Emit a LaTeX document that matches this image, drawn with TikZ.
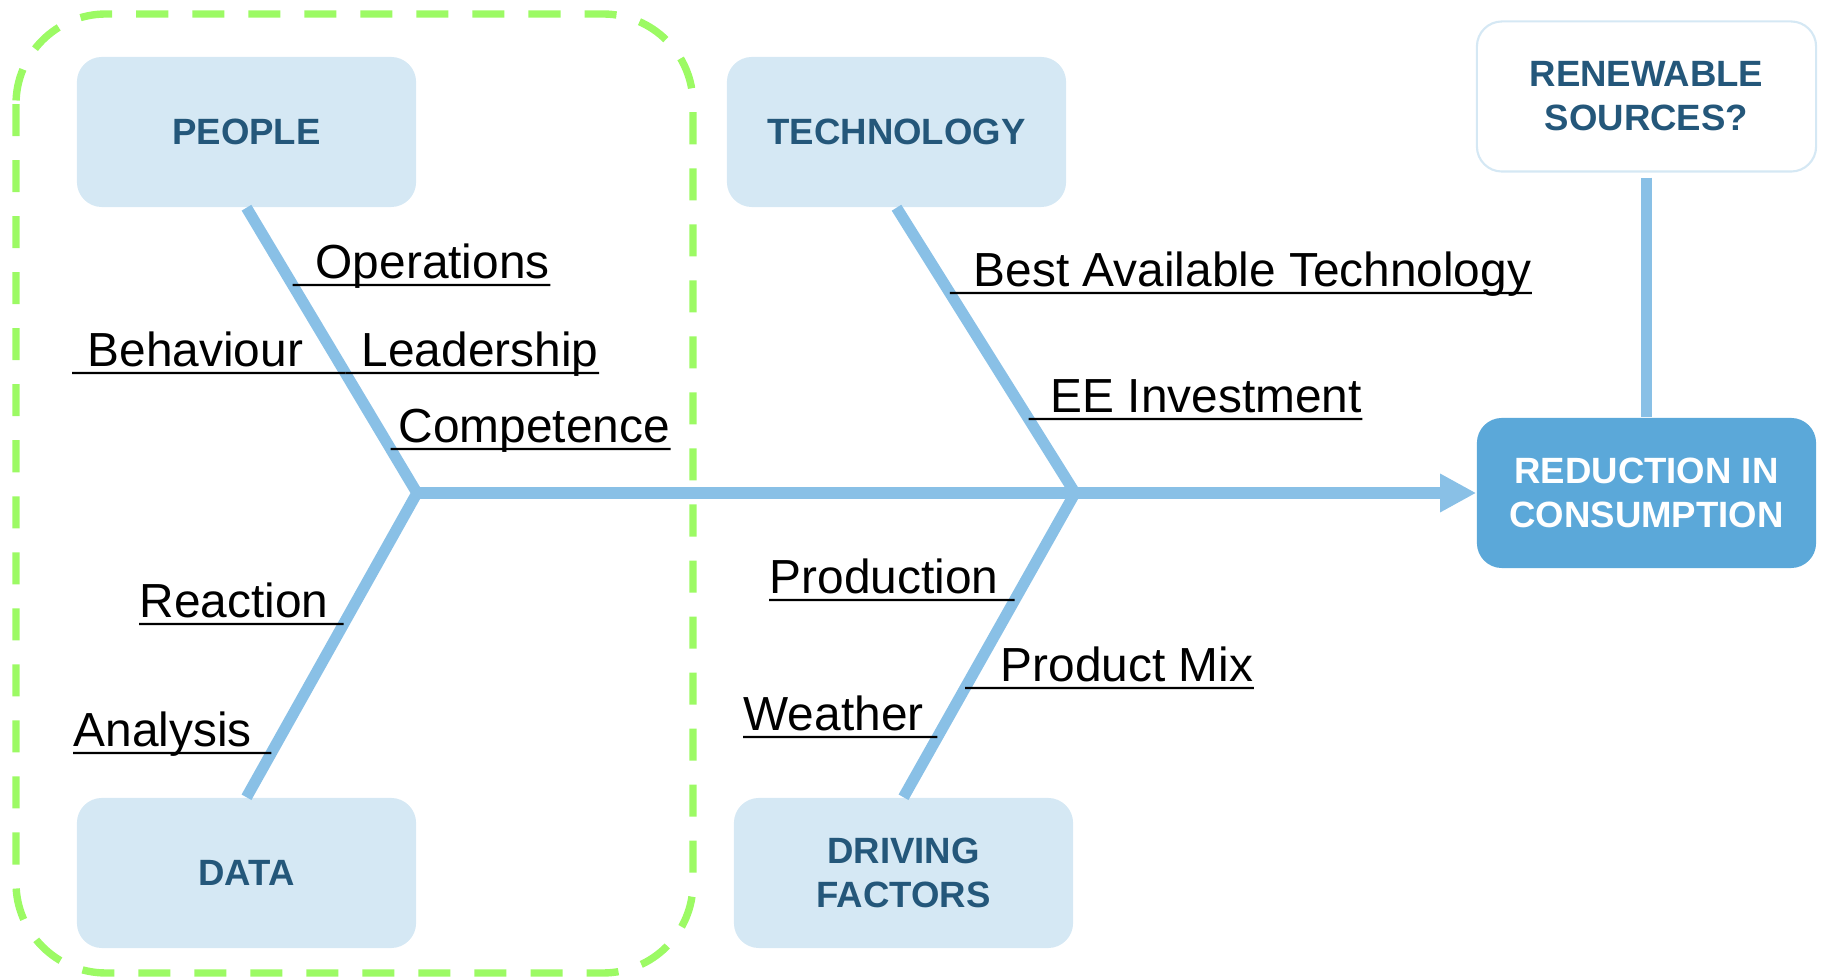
\documentclass[tikz,border=0pt]{standalone}
\usepackage{fontspec}
\setmainfont{Liberation Sans}
\usetikzlibrary{arrows.meta,calc}
\definecolor{boxfill}{RGB}{213,232,244}
\definecolor{boxtext}{RGB}{36,87,122}
\definecolor{bone}{RGB}{137,192,230}
\definecolor{redfill}{RGB}{91,168,217}
\definecolor{dashgreen}{RGB}{156,250,100}
\begin{document}
\begin{tikzpicture}[x=0.01cm,y=-0.01cm,
  cat/.style={rounded corners=0.25cm, fill=boxfill, text=boxtext, minimum width=3.39cm, minimum height=1.5cm, inner sep=0pt, align=center, font=\bfseries\fontsize{10.4pt}{12.5pt}\selectfont},
  lab/.style={anchor=base west, inner sep=0pt, font=\fontsize{13.6pt}{16pt}\selectfont},
  bonel/.style={draw=bone, line width=3.2pt, line join=miter},
  uline/.style={draw=black, line width=0.6pt}]
\useasboundingbox (0,0) rectangle (1821,980);
% group frame
\draw[dashgreen, line width=2.1pt, dash pattern=on 0.32cm off 0.24cm, rounded corners=0.9cm] (16,14) rectangle (693,973);
% category boxes
\node[cat] (people) at (246.5,132) {PEOPLE};
\node[cat] (tech) at (896.5,132) {TECHNOLOGY};
\node[cat] (data) at (246.5,873) {DATA};
\node[cat] (drive) at (903.5,873) {DRIVING\\FACTORS};
\node[cat, fill=white, draw=boxfill, line width=0.6pt] (renew) at (1646.5,96.5) {RENEWABLE\\SOURCES?};
\node[cat, fill=redfill, text=white] (reduce) at (1646.5,493) {REDUCTION IN\\CONSUMPTION};
% junctions
\coordinate (j1) at (417,493);
\coordinate (j2) at (1075,493);
% bones
\draw[bonel] (people.south) -- (j1) -- (data.north);
\draw[bonel] (tech.south) -- (j2) -- (drive.north);
\draw[bonel, -{Triangle[length=0.36cm,width=0.36cm]}] (j1) -- (j2) -- (reduce.west);
\draw[bonel, shorten <=0.05cm] (renew.south) -- (reduce.north);
% labels
\node[lab] (op) at (315,279) {Operations};
\draw[uline] (intersection of people.south--j1 and 0,285--10,285) -- (op.base east |- 0,285);
\node[lab] (beh) at (87,367) {Behaviour};
\draw[uline] ($(beh.base west)+(-15,6)$) -- (intersection of people.south--j1 and 0,373--10,373);
\node[lab] (lead) at (361,367) {Leadership};
\draw[uline] (intersection of people.south--j1 and 0,373--10,373) -- (lead.base east |- 0,373);
\node[lab] (comp) at (398,443) {Competence};
\draw[uline] (intersection of people.south--j1 and 0,449--10,449) -- (comp.base east |- 0,449);
\node[lab] (rea) at (139,618) {Reaction};
\draw[uline] (rea.base west |- 0,624) -- (intersection of j1--data.north and 0,624--10,624);
\node[lab] (ana) at (73,747) {Analysis};
\draw[uline] (ana.base west |- 0,753) -- (intersection of j1--data.north and 0,753--10,753);
\node[lab] (bat) at (973,287) {Best Available Technology};
\draw[uline] (intersection of tech.south--j2 and 0,293--10,293) -- (bat.base east |- 0,293);
\node[lab] (ee) at (1050,413) {EE Investment};
\draw[uline] (intersection of tech.south--j2 and 0,419--10,419) -- (ee.base east |- 0,419);
\node[lab] (prod) at (769,594) {Production};
\draw[uline] (prod.base west |- 0,600) -- (intersection of j2--drive.north and 0,600--10,600);
\node[lab] (mix) at (1000,682) {Product Mix};
\draw[uline] (intersection of j2--drive.north and 0,688--10,688) -- (mix.base east |- 0,688);
\node[lab] (wea) at (743,731) {Weather};
\draw[uline] (wea.base west |- 0,737) -- (intersection of j2--drive.north and 0,737--10,737);
\end{tikzpicture}
\end{document}
